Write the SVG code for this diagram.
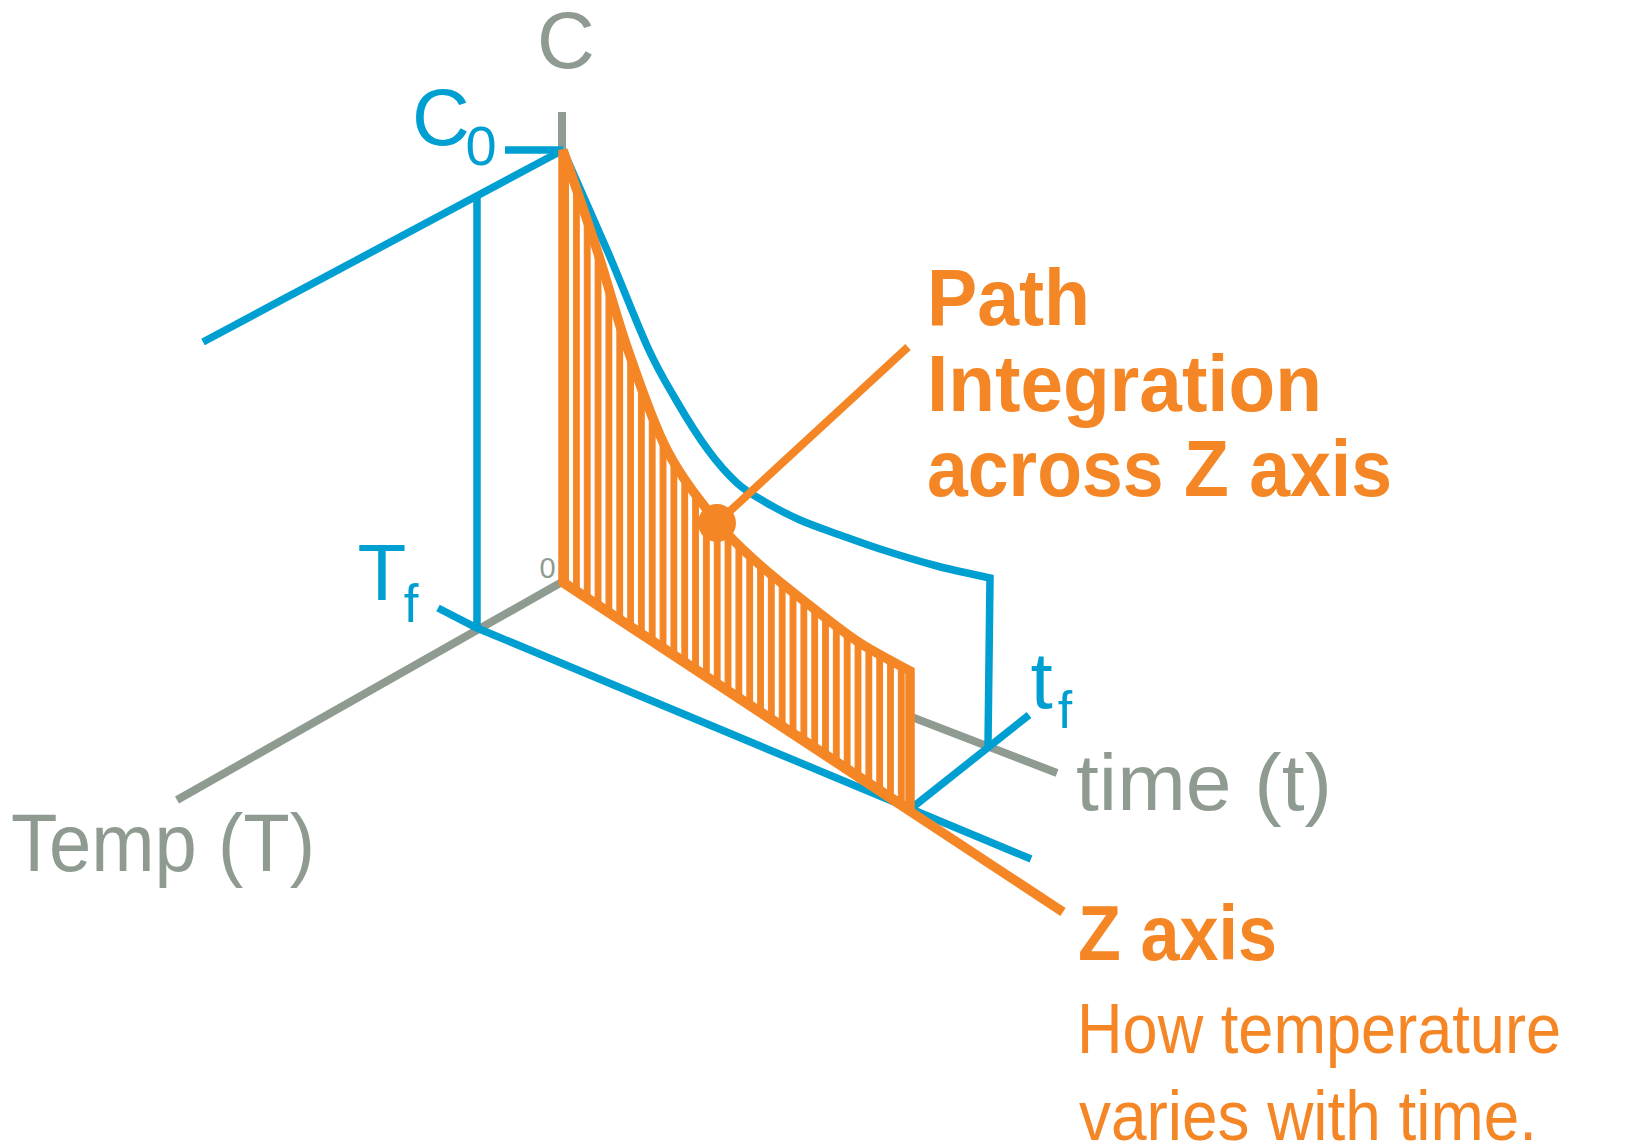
<svg xmlns="http://www.w3.org/2000/svg" width="1639" height="1145" viewBox="0 0 1639 1145">
<style>
.gray{stroke:#8F9B91;stroke-width:8;fill:none;stroke-linecap:butt}
.blue{stroke:#009FD2;stroke-width:7.5;fill:none;stroke-linecap:butt;stroke-linejoin:miter}
.orng{stroke:#F48626;stroke-width:9.5;fill:none;stroke-linecap:butt;stroke-linejoin:miter}
.tg{font-family:"Liberation Sans",Arial,sans-serif;fill:#8F9B91}
.tb{font-family:"Liberation Sans",Arial,sans-serif;fill:#009FD2}
.to{font-family:"Liberation Sans",Arial,sans-serif;fill:#F48626}
.bold{font-weight:bold}
</style>
<defs>
<pattern id="stripes" patternUnits="userSpaceOnUse" x="569" y="0" width="10.83" height="20">
<rect x="0" y="0" width="10.83" height="20" fill="#F48626"/>
<rect x="0" y="0" width="4" height="20" fill="#FFFFFF"/>
</pattern>
</defs>
<rect x="0" y="0" width="1639" height="1145" fill="#FFFFFF"/>

<g id="axes">
<line class="gray" x1="562" y1="112" x2="562" y2="150"/>
<line class="gray" x1="562" y1="582" x2="177" y2="800"/>
<line class="gray" x1="562" y1="582" x2="1057" y2="773"/>
</g>

<g id="blue-lines">
<line class="blue" x1="505" y1="150" x2="563" y2="150"/>
<line class="blue" x1="563" y1="150" x2="203" y2="342"/>
<line class="blue" x1="477" y1="196" x2="477" y2="630"/>
<polyline class="blue" points="438,608 477,628 1031,859"/>
<path class="blue" d="M563,150 C570.3,166.7 592.5,216.7 607,250 C621.5,283.3 636.5,323 648,348 C659.5,373 666.3,383.3 676,400 C685.7,416.7 697.8,436.2 708,450 C718.2,463.8 727.5,474.3 737,483 C746.5,491.7 754.5,495.8 765,502 C775.5,508.2 787.5,514.5 800,520 C812.5,525.5 826.7,530.2 840,535 C853.3,539.8 863.8,543.8 880,549 C896.2,554.2 918.7,561.2 937,566 C955.3,570.8 981.2,576 990,578 L988,745"/>
<line class="blue" x1="913" y1="807" x2="1029" y2="715"/>
</g>

<g id="hatched-region">
<path class="orng" style="fill:url(#stripes)" d="M563,150 C568.7,166.7 586.2,216.7 597,250 C607.8,283.3 616.3,316.7 628,350 C639.7,383.3 652.2,421.3 667,450 C681.8,478.7 701.5,502.8 717,522 C732.5,541.2 744,550.7 760,565 C776,579.3 796.3,595 813,608 C829.7,621 843.8,632.5 860,643 C876.2,653.5 901.7,666.3 910,671 L910,810 L563,582 Z"/>
</g>

<g id="connectors">
<line class="orng" x1="562" y1="582" x2="1063" y2="912"/>
<line class="orng" style="stroke-width:8" x1="717" y1="523" x2="908" y2="347"/>
<circle cx="717" cy="523" r="19" fill="#F48626"/>
</g>

<g id="labels">
<text class="tg" x="566" y="68" font-size="80" text-anchor="middle">C</text>
<text class="tb" x="441" y="145" font-size="80" text-anchor="middle">C</text>
<text class="tb" x="481" y="165" font-size="56" text-anchor="middle">0</text>
<text class="tb" x="382" y="600" font-size="80" text-anchor="middle">T</text>
<text class="tb" x="411" y="622" font-size="53" text-anchor="middle">f</text>
<text class="tg" x="547.5" y="578" font-size="29" text-anchor="middle">0</text>
<text class="tb" x="1041.5" y="708" font-size="80" text-anchor="middle">t</text>
<text class="tb" x="1065" y="728" font-size="52" text-anchor="middle">f</text>
<text class="tg" x="11" y="871" font-size="81" textLength="304" lengthAdjust="spacingAndGlyphs">Temp (T)</text>
<text class="tg" x="1076" y="810" font-size="80" textLength="256" lengthAdjust="spacingAndGlyphs">time (t)</text>
</g>

<g id="path-integration-label">
<text class="to bold" x="927" y="325" font-size="80" textLength="163" lengthAdjust="spacingAndGlyphs">Path</text>
<text class="to bold" x="927" y="411" font-size="80" textLength="395" lengthAdjust="spacingAndGlyphs">Integration</text>
<text class="to bold" x="927" y="496" font-size="80" textLength="465" lengthAdjust="spacingAndGlyphs">across Z axis</text>
</g>

<g id="z-axis-label">
<text class="to bold" x="1078" y="960" font-size="78" textLength="199" lengthAdjust="spacingAndGlyphs">Z axis</text>
<text class="to" x="1077" y="1053" font-size="70" textLength="484" lengthAdjust="spacingAndGlyphs">How temperature</text>
<text class="to" x="1079" y="1140" font-size="70" textLength="458" lengthAdjust="spacingAndGlyphs">varies with time.</text>
</g>
</svg>
